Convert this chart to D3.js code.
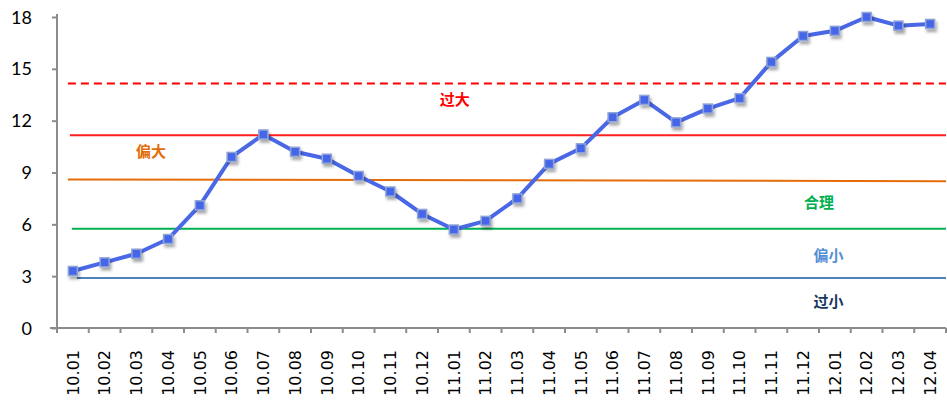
<!DOCTYPE html>
<html>
<head>
<meta charset="utf-8">
<script src="https://cdn.jsdelivr.net/npm/d3@7"></script>
<style>
  html, body { margin: 0; padding: 0; background: #fff; }
  svg { display: block; }
</style>
</head>
<body>
<svg id="chart" width="947" height="401"></svg>
<script>
// months on the x axis
const categories = ['10.01','10.02','10.03','10.04','10.05','10.06','10.07','10.08','10.09','10.10','10.11','10.12',
  '11.01','11.02','11.03','11.04','11.05','11.06','11.07','11.08','11.09','11.10','11.11','11.12',
  '12.01','12.02','12.03','12.04'];

// main series
const values = [3.3, 3.8, 4.3, 5.15, 7.1, 9.9, 11.2, 10.2, 9.8, 8.8, 7.9, 6.6,
  5.7, 6.2, 7.5, 9.5, 10.4, 12.2, 13.2, 11.9, 12.7, 13.3, 15.4, 16.9,
  17.2, 18.0, 17.5, 17.6];

const yTicks = [0, 3, 6, 9, 12, 15, 18];

// threshold lines: value at left end, value at right end
const refNames = ['过大', '偏大', '合理', '偏小', '过小'];
const refStart = [14.15, 11.15, 8.6, 5.75, 2.9];
const refEnd = [14.15, 11.15, 8.5, 5.75, 2.9];

// zone labels: name, position along categories (index), value
const zoneLabels = [
  ['过大', 12.03, 13.3],
  ['偏大', 2.46, 10.25],
  ['合理', 23.5, 7.35],
  ['偏小', 23.8, 4.28],
  ['过小', 23.8, 1.62]
];

const refColor = { '过大': '#ff0000', '偏大': '#ff1f1f', '合理': '#e46c0a', '偏小': '#00b050', '过小': '#4f81bd' };
const refDash = { '过大': '8,5' };
const refStartShift = { '过大': -5, '偏大': -3, '合理': -5, '偏小': -1, '过小': 4 };
const labelColor = { '过大': '#ff0000', '偏大': '#e46c0a', '合理': '#00b050', '偏小': '#558ed5', '过小': '#17375e' };

const svg = d3.select('#chart');
const m = { left: 57, right: 946, top: 17, bottom: 328 };

const x = d3.scaleBand().domain(categories).range([m.left, m.right]).padding(0);
const y = d3.scaleLinear().domain([0, 18]).range([m.bottom, m.top]);
const cx = d => x(d) + x.bandwidth() / 2;
const xi = i => x(categories[0]) + x.bandwidth() * (i + 0.5);

const defs = svg.append('defs');
const f = defs.append('filter').attr('id', 'shadow')
  .attr('x', '-60%').attr('y', '-60%').attr('width', '260%').attr('height', '260%');
f.append('feDropShadow').attr('dx', 1.5).attr('dy', 3).attr('stdDeviation', 1.8)
  .attr('flood-color', '#000').attr('flood-opacity', 0.35);

const axisColor = '#8c8c8c';

// y axis
const yAxis = svg.append('g').attr('transform', `translate(${m.left},0)`)
  .call(d3.axisLeft(y).tickValues(yTicks).tickSize(5).tickPadding(20));
yAxis.select('.domain').attr('stroke', axisColor).attr('stroke-width', 2)
  .attr('d', `M0,${m.top - 3}V${m.bottom}`);
yAxis.selectAll('.tick line').attr('stroke', axisColor).attr('stroke-width', 2);
yAxis.selectAll('.tick text').attr('font-family', 'Lato, "Open Sans", sans-serif')
  .attr('font-size', 18).attr('fill', '#000').attr('dy', '0.34em');

// x axis
const xAxis = svg.append('g').attr('transform', `translate(0,${m.bottom})`);
xAxis.append('line').attr('x1', m.left - 7).attr('x2', m.right).attr('y1', 0).attr('y2', 0)
  .attr('stroke', axisColor).attr('stroke-width', 2);
xAxis.selectAll('line.tk').data(categories.concat(['end'])).join('line').attr('class', 'tk')
  .attr('x1', (d, i) => i < categories.length ? x(d) : m.right)
  .attr('x2', (d, i) => i < categories.length ? x(d) : m.right)
  .attr('y1', 0).attr('y2', 5)
  .attr('stroke', axisColor).attr('stroke-width', 2);
xAxis.selectAll('text').data(categories).join('text')
  .attr('transform', d => `translate(${cx(d)},22) rotate(-90)`)
  .attr('text-anchor', 'end')
  .attr('dy', '0.36em')
  .attr('font-family', '"DejaVu Sans", sans-serif')
  .attr('font-size', 16)
  .attr('fill', '#000')
  .text(d => d);

// threshold lines
svg.append('g').selectAll('line').data(refNames).join('line')
  .attr('x1', d => xi(0) + refStartShift[d])
  .attr('x2', m.right)
  .attr('y1', (d, i) => y(refStart[i]))
  .attr('y2', (d, i) => y(refEnd[i]))
  .attr('stroke', d => refColor[d])
  .attr('stroke-width', 2)
  .attr('stroke-dasharray', d => refDash[d] || null);

// zone labels
svg.append('g').selectAll('text').data(zoneLabels).join('text')
  .attr('x', d => xi(d[1]))
  .attr('y', d => y(d[2]))
  .attr('text-anchor', 'middle')
  .attr('dominant-baseline', 'central')
  .attr('font-family', '"Noto Sans CJK SC", sans-serif')
  .attr('font-weight', 'bold')
  .attr('font-size', 15)
  .attr('fill', d => labelColor[d[0]])
  .text(d => d[0]);

// main line
const line = d3.line().x((d, i) => cx(categories[i])).y(d => y(d));
svg.append('path').datum(values)
  .attr('d', line)
  .attr('fill', 'none')
  .attr('stroke', '#4a68e6')
  .attr('stroke-width', 4)
  .attr('stroke-linejoin', 'round');

// markers
svg.append('g').selectAll('rect').data(values).join('rect')
  .attr('x', (d, i) => cx(categories[i]) - 4.5)
  .attr('y', d => y(d) - 4.5)
  .attr('width', 9).attr('height', 9)
  .attr('fill', '#4466e8')
  .attr('stroke', '#90a4d6')
  .attr('stroke-width', 1.5)
  .attr('filter', 'url(#shadow)');
</script>
</body>
</html>
